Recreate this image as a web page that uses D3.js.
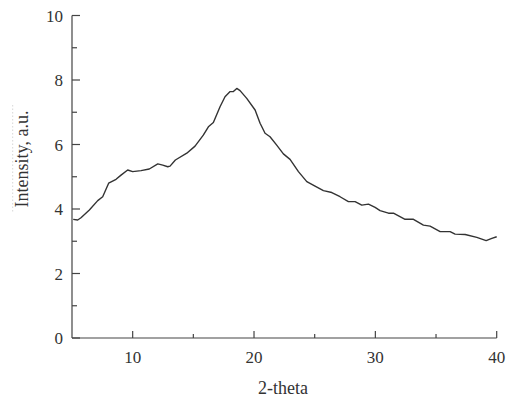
<!DOCTYPE html>
<html><head><meta charset="utf-8">
<script src="https://cdn.jsdelivr.net/npm/d3@7"></script>
<style>html,body{margin:0;padding:0;background:#fff;}svg{display:block;}</style>
</head><body>
<script>
const theta = [5.1,5.47,5.74,6.43,7.12,7.53,8.02,8.63,9.04,9.59,10.0,10.69,11.37,12.07,12.48,12.89,13.08,13.52,14.46,15.14,15.82,16.24,16.65,17.2,17.61,18.03,18.3,18.58,18.85,19.4,20.09,20.5,20.91,21.32,21.87,22.42,22.97,23.66,24.35,25.03,25.72,26.41,27.09,27.78,28.33,28.88,29.43,29.98,30.39,31.08,31.49,32.45,33.14,33.96,34.51,35.34,36.16,36.57,37.4,38.36,39.13,39.6,40.0];
const intensity = [3.68,3.66,3.73,3.97,4.26,4.38,4.8,4.92,5.05,5.21,5.16,5.19,5.24,5.40,5.36,5.31,5.33,5.52,5.73,5.95,6.29,6.55,6.68,7.17,7.48,7.64,7.64,7.74,7.67,7.43,7.07,6.66,6.35,6.24,5.98,5.71,5.54,5.16,4.85,4.71,4.57,4.51,4.38,4.23,4.23,4.12,4.15,4.05,3.95,3.87,3.87,3.68,3.68,3.50,3.47,3.30,3.30,3.22,3.21,3.12,3.02,3.09,3.14];
const xTicks = [10,20,30,40];
const xMinor = [15,25,35];
const yTicks = [0,2,4,6,8,10];
const yMinor = [1,3,5,7,9];

const W = 513, H = 403;
const svg = d3.select("body").append("svg").attr("width", W).attr("height", H);
const x = d3.scaleLinear().domain([5,40]).range([72,496.7]);
const y = d3.scaleLinear().domain([0,10]).range([338,15.5]);
const axisColor = "#444", font = "Liberation Serif, Times New Roman, serif";

// axis lines
svg.append("line").attr("x1", x(5)).attr("x2", x(40)).attr("y1", y(0)).attr("y2", y(0)).attr("stroke", axisColor).attr("stroke-width", 1.2);
svg.append("line").attr("x1", x(5)).attr("x2", x(5)).attr("y1", y(0)).attr("y2", y(10)).attr("stroke", axisColor).attr("stroke-width", 1.2);

// x ticks
svg.selectAll(".xt").data(xTicks).join("line").attr("x1", d=>x(d)).attr("x2", d=>x(d)).attr("y1", y(0)).attr("y2", y(0)-7).attr("stroke", axisColor).attr("stroke-width",1.2);
svg.selectAll(".xm").data(xMinor).join("line").attr("x1", d=>x(d)).attr("x2", d=>x(d)).attr("y1", y(0)).attr("y2", y(0)-4).attr("stroke", axisColor).attr("stroke-width",1.2);
svg.selectAll(".xl").data(xTicks).join("text").attr("x", d=>x(d)).attr("y", 363).attr("text-anchor","middle").attr("font-family", font).attr("font-size", 17).attr("fill","#333").text(d=>d);

// y ticks
svg.selectAll(".yt").data(yTicks).join("line").attr("x1", x(5)).attr("x2", x(5)+8).attr("y1", d=>y(d)).attr("y2", d=>y(d)).attr("stroke", axisColor).attr("stroke-width",1.2);
svg.selectAll(".ym").data(yMinor).join("line").attr("x1", x(5)).attr("x2", x(5)+5).attr("y1", d=>y(d)).attr("y2", d=>y(d)).attr("stroke", axisColor).attr("stroke-width",1.2);
svg.selectAll(".yl").data(yTicks).join("text").attr("x", 63).attr("y", d=>y(d)+6).attr("text-anchor","end").attr("font-family", font).attr("font-size", 17).attr("fill","#333").text(d=>d);

// axis titles
svg.append("text").attr("x", 283).attr("y", 394).attr("text-anchor","middle").attr("font-family", font).attr("font-size", 18).attr("fill","#333").text("2-theta");
svg.append("line").attr("x1", 12.7).attr("x2", 12.7).attr("y1", 105).attr("y2", 213).attr("stroke", "#ccc").attr("stroke-width", 0.8).attr("stroke-dasharray", "1.5,2");
svg.append("text").attr("transform", "translate(28,159) rotate(-90)").attr("text-anchor","middle").attr("font-family", font).attr("font-size", 18).attr("fill","#333").text("Intensity, a.u.");

// curve
const line = d3.line().x((d,i)=>x(theta[i])).y(d=>y(d));
svg.append("path").datum(intensity).attr("d", line).attr("fill","none").attr("stroke","#333").attr("stroke-width",1.4).attr("stroke-linejoin","round");
</script>
</body></html>
